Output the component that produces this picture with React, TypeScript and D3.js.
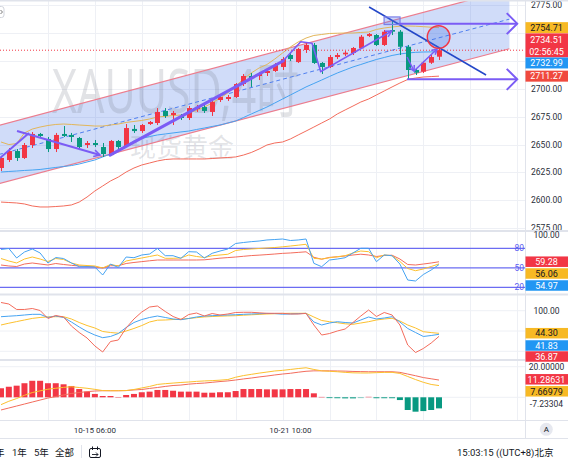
import React from "react";
import * as d3 from "d3";

// ---------------- data (XAUUSD 4h) ----------------
const opens = [2629.0, 2636.2, 2644.2, 2638.0, 2649.6, 2659.5, 2655.0, 2646.0, 2659.5, 2658.6, 2655.9, 2649.6, 2651.4, 2647.8, 2640.6, 2653.2, 2648.7, 2664.0, 2662.1, 2668.4, 2669.3, 2680.1, 2676.5, 2675.6, 2673.8, 2681.8, 2683.6, 2679.2, 2689.9, 2690.8, 2692.6, 2704.2, 2711.4, 2711.4, 2714.1, 2715.9, 2719.5, 2730.2, 2723.9, 2734.7, 2739.2, 2723.1, 2719.5, 2728.4, 2730.8, 2732.0, 2736.2, 2747.2, 2748.1, 2739.2, 2752.6, 2751.1, 2737.6, 2716.8, 2715.3, 2723.3, 2728.7];
const highs = [2639.7, 2646.9, 2646.0, 2651.4, 2661.2, 2660.4, 2656.8, 2660.4, 2666.6, 2660.4, 2656.8, 2653.2, 2654.1, 2651.4, 2654.1, 2654.1, 2668.4, 2667.5, 2668.4, 2671.1, 2682.7, 2682.7, 2680.1, 2677.4, 2684.5, 2685.4, 2685.4, 2689.9, 2694.4, 2694.4, 2705.1, 2713.2, 2714.1, 2715.0, 2717.7, 2723.1, 2728.4, 2732.9, 2736.5, 2741.0, 2741.0, 2723.9, 2730.2, 2732.0, 2733.8, 2737.4, 2748.1, 2749.9, 2749.0, 2752.6, 2760.7, 2752.6, 2739.2, 2718.6, 2724.8, 2730.2, 2736.5];
const lows = [2626.3, 2634.4, 2635.3, 2637.1, 2646.9, 2655.9, 2643.3, 2643.3, 2656.8, 2652.3, 2645.1, 2646.9, 2647.8, 2638.9, 2639.7, 2646.0, 2647.8, 2660.4, 2660.4, 2667.5, 2667.5, 2673.8, 2667.5, 2672.0, 2672.0, 2679.2, 2678.3, 2675.6, 2688.1, 2689.0, 2691.7, 2702.4, 2701.6, 2707.8, 2711.4, 2715.0, 2716.8, 2724.8, 2723.1, 2732.0, 2722.2, 2713.2, 2718.6, 2726.6, 2729.3, 2730.2, 2735.6, 2746.3, 2738.3, 2738.3, 2748.1, 2730.2, 2708.7, 2712.3, 2714.1, 2722.2, 2725.7];
const closes = [2638.0, 2644.2, 2638.0, 2649.6, 2659.5, 2657.7, 2646.0, 2658.6, 2657.7, 2656.8, 2647.8, 2651.4, 2649.6, 2641.5, 2653.2, 2647.8, 2664.8, 2662.1, 2667.5, 2670.2, 2679.2, 2675.6, 2678.3, 2673.8, 2682.7, 2683.6, 2680.1, 2688.1, 2692.6, 2692.6, 2704.2, 2711.4, 2709.6, 2713.2, 2715.9, 2721.3, 2726.6, 2726.6, 2735.6, 2739.2, 2723.1, 2719.5, 2728.4, 2730.2, 2732.3, 2736.5, 2746.6, 2749.0, 2739.2, 2751.1, 2751.1, 2737.6, 2716.8, 2714.4, 2723.3, 2728.4, 2734.51];

const bbUpper = [2652.3, 2650.0, 2650.9, 2660.4, 2663.9, 2665.7, 2667.1, 2668.0, 2668.4, 2668.0, 2667.5, 2667.1, 2666.6, 2666.6, 2667.5, 2668.4, 2669.8, 2670.7, 2671.6, 2672.9, 2674.7, 2675.3, 2676.0, 2676.5, 2678.3, 2680.5, 2683.6, 2687.2, 2691.7, 2696.2, 2702.5, 2708.7, 2714.1, 2718.6, 2721.7, 2726.6, 2732.0, 2737.4, 2741.9, 2745.4, 2747.7, 2748.6, 2749.5, 2749.7, 2749.9, 2749.9, 2750.4, 2750.8, 2753.1, 2754.4, 2755.3, 2756.0, 2756.2, 2756.0, 2755.6, 2755.1, 2754.71];
const bbMiddle = [2625.4, 2625.9, 2626.3, 2626.8, 2627.2, 2627.7, 2628.6, 2629.5, 2630.3, 2631.2, 2632.6, 2634.4, 2636.2, 2638.9, 2641.5, 2645.1, 2648.7, 2653.2, 2655.4, 2657.2, 2658.6, 2659.5, 2660.4, 2661.3, 2662.1, 2663.5, 2664.8, 2666.2, 2667.5, 2669.3, 2671.1, 2674.2, 2677.4, 2680.5, 2683.6, 2687.2, 2690.8, 2694.4, 2698.0, 2701.6, 2704.7, 2707.8, 2711.0, 2714.1, 2716.8, 2719.5, 2721.7, 2724.0, 2726.2, 2728.0, 2729.8, 2731.1, 2732.0, 2732.6, 2732.9, 2733.0, 2732.99];
const bbLower = [2598.5, 2598.1, 2597.7, 2596.8, 2595.0, 2594.1, 2594.1, 2594.5, 2595.0, 2595.9, 2598.5, 2603.0, 2608.4, 2612.9, 2617.4, 2620.9, 2625.4, 2629.0, 2631.7, 2633.5, 2635.3, 2636.6, 2637.1, 2637.1, 2637.1, 2637.1, 2637.1, 2637.5, 2638.0, 2638.4, 2638.9, 2640.6, 2642.9, 2646.0, 2649.6, 2651.4, 2652.3, 2655.0, 2658.6, 2662.1, 2665.7, 2669.3, 2672.9, 2677.4, 2681.0, 2684.5, 2688.1, 2690.8, 2694.4, 2698.0, 2701.6, 2705.1, 2708.3, 2709.6, 2710.5, 2710.9, 2711.27];

const rsiFast = [78.2, 79.7, 65.1, 74.3, 78.9, 72.8, 57.4, 65.8, 64.3, 57.4, 51.7, 51.7, 51.2, 38.9, 55.8, 50.5, 66.6, 65.5, 69.7, 71.2, 79.7, 68.6, 68.6, 64.6, 74.8, 74.3, 65.1, 72.3, 75.8, 78.9, 87.4, 88.9, 90.2, 91.2, 92.8, 93.5, 94.3, 92.0, 92.8, 94.3, 56.9, 51.7, 62.0, 63.5, 65.5, 72.8, 80.0, 80.0, 59.4, 69.7, 68.6, 55.8, 31.2, 29.7, 39.7, 46.6, 54.97];
const rsiMid = [64.3, 60.5, 57.4, 63.5, 66.6, 63.5, 59.7, 64.3, 62.8, 57.4, 54.3, 53.5, 52.8, 49.7, 55.1, 52.8, 60.5, 62.8, 65.1, 67.4, 69.7, 64.6, 64.6, 65.1, 69.7, 67.4, 65.8, 68.6, 69.7, 70.8, 76.6, 78.2, 78.9, 79.7, 80.5, 81.2, 82.3, 83.5, 84.8, 86.2, 64.6, 63.5, 65.5, 67.1, 68.6, 72.8, 75.8, 74.8, 65.5, 69.7, 68.6, 59.7, 48.9, 45.5, 48.2, 52.0, 56.06];
const rsiSlow = [54.3, 52.8, 52.0, 55.8, 57.4, 55.8, 54.3, 56.6, 55.1, 53.8, 52.8, 52.0, 51.5, 49.7, 53.2, 53.2, 56.6, 58.2, 59.5, 60.8, 62.0, 62.0, 62.0, 62.0, 62.0, 62.0, 62.3, 63.5, 64.8, 65.7, 66.6, 67.7, 68.8, 69.5, 70.3, 71.2, 72.2, 72.8, 73.7, 74.6, 66.2, 63.2, 66.0, 66.9, 68.2, 69.7, 70.9, 69.7, 67.4, 68.9, 69.4, 63.5, 55.1, 54.3, 55.8, 57.4, 59.28];

const kdjK = [85.2, 86.5, 87.7, 89.4, 91.1, 91.1, 83.3, 86.9, 83.3, 72.2, 59.9, 48.8, 40.1, 33.5, 36.5, 43.8, 58.6, 70.9, 78.3, 83.3, 86.9, 83.3, 79.6, 77.8, 80.8, 84.5, 86.9, 87.7, 88.7, 89.4, 90.1, 91.1, 91.9, 92.6, 93.3, 92.9, 91.4, 91.9, 92.6, 93.6, 72.2, 64.8, 69.7, 72.9, 70.9, 69.7, 77.1, 84.5, 79.6, 82.0, 85.2, 72.2, 56.2, 46.3, 36.5, 38.9, 41.83];
const kdjD = [64.8, 69.2, 73.2, 77.1, 81.0, 83.3, 84.7, 85.2, 85.2, 79.6, 70.9, 63.5, 57.4, 48.8, 46.3, 44.6, 50.0, 56.2, 63.5, 72.2, 76.6, 77.1, 78.3, 79.1, 80.8, 82.8, 84.7, 85.7, 86.5, 87.2, 87.7, 88.9, 89.9, 90.9, 91.9, 92.6, 93.3, 93.6, 93.6, 93.6, 84.5, 75.9, 72.9, 70.4, 67.7, 66.5, 69.7, 72.9, 77.1, 79.6, 81.3, 74.6, 64.8, 57.4, 48.3, 46.1, 44.30];
const kdjJ = [120.2, 116.5, 103.0, 103.0, 105.4, 100.5, 80.8, 88.2, 84.5, 62.3, 46.3, 32.8, 13.1, -1.7, 24.1, 27.8, 57.4, 79.6, 96.8, 109.1, 111.6, 98.0, 85.7, 78.3, 90.6, 94.3, 86.9, 93.1, 89.4, 91.9, 95.6, 96.1, 96.1, 94.8, 93.6, 93.6, 93.6, 91.9, 91.9, 93.3, 64.8, 40.1, 43.8, 50.0, 54.9, 70.9, 86.9, 101.7, 85.7, 95.6, 89.4, 64.8, 15.5, -3.0, 6.9, 20.4, 36.87];

const macdDif = [-4.8, -2.6, -0.8, 1.3, 3.1, 4.2, 5.3, 5.9, 6.5, 6.9, 6.4, 5.9, 5.2, 4.4, 4.3, 4.3, 4.4, 5.1, 6.1, 7.1, 8.4, 8.9, 9.3, 9.7, 10.0, 10.4, 10.7, 10.9, 11.2, 11.6, 13.1, 14.2, 15.0, 15.8, 16.5, 17.2, 17.6, 18.2, 18.8, 19.3, 18.2, 17.3, 17.0, 16.7, 16.3, 16.0, 15.9, 15.9, 16.1, 16.3, 16.3, 15.6, 13.6, 11.6, 9.8, 8.4, 7.66979];
const macdDea = [-8.3, -7.0, -5.7, -4.4, -3.1, -1.8, -0.5, 0.5, 1.5, 2.5, 3.1, 3.7, 4.1, 4.3, 4.3, 4.3, 4.4, 4.8, 5.1, 5.8, 6.4, 7.1, 7.7, 8.0, 8.6, 9.0, 9.3, 9.8, 10.3, 10.7, 11.3, 12.0, 12.6, 13.3, 13.9, 14.6, 15.2, 15.7, 16.4, 17.0, 17.3, 17.3, 17.3, 17.2, 17.1, 16.9, 16.8, 16.7, 16.7, 16.7, 16.7, 16.3, 15.2, 14.1, 12.9, 12.1, 11.28631];
const macdHist = [5.9, 6.9, 7.6, 9.2, 10.8, 10.8, 9.2, 9.2, 8.5, 7.4, 5.4, 3.7, 2.2, 0.85, 0.85, 0.2, 1.5, 2.2, 3.3, 3.7, 4.8, 4.8, 4.3, 3.7, 3.7, 3.7, 3.0, 3.0, 3.3, 3.3, 4.1, 5.4, 5.4, 5.4, 5.2, 5.2, 5.2, 5.4, 5.4, 5.4, 2.6, 0.3, -0.5, -0.6, -0.7, -0.7, -0.2, 0.4, -0.6, -0.6, -0.6, -1.8, -8.3, -9.4, -9.0, -8.3, -7.23304];

const priceGridLevels = [2575, 2600, 2625, 2650, 2675, 2700, 2725, 2750, 2775];
const priceTickLabels = [2575, 2600, 2625, 2650, 2675, 2700, 2775];
const timeTickIndex = [12, 37];
const timeTickLabels = ["10-15 06:00", "10-21 10:00"];
const rsiLevels = [80, 50, 20];
const lastPrice = 2734.51;
const countdown = "02:56:45";

// drawings: [bar index, price]
const channelUpper = [[-2, 2664.0], [65, 2788.9]];
const channelLower = [[-2, 2611.8], [65, 2735.8]];
const trendLine = [[47.06, 2773.2], [62.02, 2712.3]];
const legA = [[-0.13, 2638.0], [3.58, 2660.4]];
const legB = [[2.05, 2662.1], [12.66, 2640.6]];
const legC = [[13.94, 2640.6], [36.06, 2724.8]];
const legD = [[36.06, 2724.8], [38.32, 2742.1], [39.77, 2740.7], [40.88, 2715.3], [49.96, 2751.7]];
const legE = [[51.92, 2728.4], [52.81, 2715.9]];
const legF = [[52.81, 2715.9], [55.75, 2735.6]];
const targetHigh = [[50.9, 2758.3], [66.0, 2758.3]];
const targetLow = [[51.92, 2708.4], [66.0, 2708.4]];
const highBox = [[48.98, 2764.3], [51.02, 2757.5]];
const circleMark = [55.95, 2746.3];

const FONT = "Roboto, 'Noto Sans', 'Noto Sans CJK SC', sans-serif";
const RED = "#f23645";
const GREEN = "#089981";
const YEL = "#f7b924";
const BLUE = "#2196f3";
const PURPLE = "#7b5cf5";
const GRID = "#eef0f5";
const SEP = "#e0e3eb";
const AX = 525;

function arrowHead(x1: number, y1: number, x2: number, y2: number, len = 7, ang = 0.5) {
  const a = Math.atan2(y2 - y1, x2 - x1);
  const ax = x2 - len * Math.cos(a - ang), ay = y2 - len * Math.sin(a - ang);
  const bx = x2 - len * Math.cos(a + ang), by = y2 - len * Math.sin(a + ang);
  return `M${ax},${ay}L${x2},${y2}L${bx},${by}`;
}

export default function App() {
  const n = closes.length;
  const x = d3.scaleLinear().domain([0, n - 1]).range([1, 439]);
  const yM = d3.scaleLinear().domain([2575, 2775]).range([228.3, 5]);
  const yR = d3.scaleLinear().domain([20, 80]).range([287.3, 248.3]);
  const yK = d3.scaleLinear().domain([0, 100]).range([351.3, 310.7]);
  const yD = d3.scaleLinear().domain([0, 20]).range([397.3, 366.7]);

  const series = (vals: number[], ys: any) =>
    d3.line<number>().x((_, i) => x(i)).y((v) => ys(v))(vals) || "";
  const poly = (pts: number[][]) =>
    d3.line<number[]>().x((p) => x(p[0])).y((p) => yM(p[1]))(pts) || "";
  const head = (pts: number[][], len = 7) => {
    const a = pts[pts.length - 2], b = pts[pts.length - 1];
    return arrowHead(x(a[0]), yM(a[1]), x(b[0]), yM(b[1]), len);
  };

  const vGrid = d3.range(6, 72, 6).map((i) => Math.round(x(i)) + 0.5);
  const bw = 5;

  const chanPath =
    `M${x(channelUpper[0][0])},${yM(channelUpper[0][1])}` +
    `L${x(channelUpper[1][0])},${yM(channelUpper[1][1])}` +
    `L${x(channelLower[1][0])},${yM(channelLower[1][1])}` +
    `L${x(channelLower[0][0])},${yM(channelLower[0][1])}Z`;
  const midline = [
    [channelUpper[0][0], (channelUpper[0][1] + channelLower[0][1]) / 2],
    [channelUpper[1][0], (channelUpper[1][1] + channelLower[1][1]) / 2],
  ];

  const chevron = (pts: number[][]) => {
    const ex = x(pts[1][0]), ey = yM(pts[1][1]);
    return `M${ex - 10.5},${ey - 10.5}L${ex},${ey}L${ex - 10.5},${ey + 10.5}`;
  };

  const last = n - 1;
  const box = (cy: number, h: number, fill: string, label: string, color: string, key: string) => (
    <g key={key}>
      <rect x={AX + 0.5} y={cy - h / 2} width={568 - AX} height={h} fill={fill} />
      <text x={546.5} y={cy + 3.2} textAnchor="middle" fontSize={9} fill={color}>{label}</text>
    </g>
  );

  const uY = yM(bbUpper[last]);
  const lY = yM(bbLower[last]);

  return (
    <svg width={568} height={458} style={{ position: "fixed", left: 0, top: 0, background: "#fff", fontFamily: FONT }}>
      <defs>
        <clipPath id="cMain"><rect x={0} y={0} width={AX} height={230} /></clipPath>
        <clipPath id="cAxisMain"><rect x={AX} y={0} width={568 - AX} height={230} /></clipPath>
        <clipPath id="cR"><rect x={0} y={232} width={AX} height={61.5} /></clipPath>
        <clipPath id="cK"><rect x={0} y={295.5} width={AX} height={63.5} /></clipPath>
        <clipPath id="cD"><rect x={0} y={361} width={AX} height={59} /></clipPath>
      </defs>
      <rect x={0} y={0} width={568} height={458} fill="#fff" />

      {/* grids */}
      {vGrid.filter((v) => v < AX).map((v, i) => (
        <line key={"vg" + i} x1={v} x2={v} y1={0} y2={420} stroke={GRID} strokeWidth={1} />
      ))}
      {priceGridLevels.map((p) => (
        <line key={"hg" + p} x1={0} x2={AX} y1={Math.round(yM(p)) + 0.5} y2={Math.round(yM(p)) + 0.5} stroke={GRID} />
      ))}
      {[100, 50, 0].map((v) => (
        <line key={"kg" + v} x1={0} x2={AX} y1={yK(v)} y2={yK(v)} stroke={GRID} />
      ))}
      {[20, 0].map((v) => (
        <line key={"dg" + v} x1={0} x2={AX} y1={yD(v)} y2={yD(v)} stroke={GRID} />
      ))}

      {/* main pane */}
      <g clipPath="url(#cMain)">
        <path d={chanPath} fill="rgba(60,110,230,0.24)" />
        <text x={52} y={113} fontSize={62} textLength={247} lengthAdjust="spacingAndGlyphs" fill="rgba(110,115,130,0.2)" fontFamily="'Noto Sans', 'Noto Sans CJK SC', sans-serif">XAUUSD,4时</text>
        <text x={130} y={157} fontSize={26} textLength={104} lengthAdjust="spacingAndGlyphs" fill="rgba(110,115,130,0.2)" fontFamily="'Noto Sans CJK SC', sans-serif">现货黄金</text>
        <path d={poly(channelUpper)} stroke="#ec7d8e" strokeWidth={1.2} fill="none" />
        <path d={poly(channelLower)} stroke="#ec7d8e" strokeWidth={1.2} fill="none" />
        <path d={poly(midline)} stroke="#4f7ff0" strokeWidth={1} strokeDasharray="4,3" fill="none" />

        <path d={series(bbUpper, yM)} stroke="#e2b65a" strokeWidth={1} fill="none" />
        <path d={series(bbMiddle, yM)} stroke="#45a3f2" strokeWidth={1} fill="none" />
        <path d={series(bbLower, yM)} stroke="#f36c5c" strokeWidth={1} fill="none" />

        <line x1={0} x2={AX} y1={yM(lastPrice)} y2={yM(lastPrice)} stroke={RED} strokeWidth={1} strokeDasharray="1,2" />

        {closes.map((c, i) => {
          const o = opens[i];
          const up = c >= o;
          const col = up ? RED : GREEN;
          const cx = Math.round(x(i)) + 0.5;
          const t = yM(Math.max(o, c));
          const b = yM(Math.min(o, c));
          return (
            <g key={"c" + i}>
              <line x1={cx} x2={cx} y1={yM(highs[i])} y2={yM(lows[i])} stroke={col} strokeWidth={1} />
              <rect x={cx - bw / 2} y={t} width={bw} height={Math.max(1, b - t)} fill={col} />
            </g>
          );
        })}

        {/* drawings */}
        <path d={poly(trendLine)} stroke="#2447c8" strokeWidth={1.5} fill="none" />
        <path d={poly(legA)} stroke={PURPLE} strokeWidth={2} fill="none" />
        <path d={poly(legB)} stroke={PURPLE} strokeWidth={2} fill="none" />
        <path d={head(legB)} stroke={PURPLE} strokeWidth={1.5} fill="none" />
        <path d={poly(legC)} stroke={PURPLE} strokeWidth={3} fill="none" strokeLinecap="round" />
        <path d={poly(legD)} stroke={PURPLE} strokeWidth={1.6} fill="none" strokeLinejoin="round" />
        <path d={head(legD)} stroke={PURPLE} strokeWidth={1.5} fill="none" />
        <path d={poly(legE)} stroke={PURPLE} strokeWidth={1.5} fill="none" />
        <path d={head(legE, 6)} stroke={PURPLE} strokeWidth={1.5} fill="none" />
        <path d={poly(legF)} stroke={PURPLE} strokeWidth={1.5} fill="none" />
        <path d={head(legF, 6)} stroke={PURPLE} strokeWidth={1.5} fill="none" />
        <rect
          x={x(highBox[0][0])}
          y={yM(highBox[0][1])}
          width={x(highBox[1][0]) - x(highBox[0][0])}
          height={yM(highBox[1][1]) - yM(highBox[0][1])}
          fill="rgba(90,120,240,0.3)"
          stroke="#7b7fe8"
          strokeWidth={1.2}
        />
        <path d={poly(targetHigh)} stroke={PURPLE} strokeWidth={2} fill="none" />
        <path d={chevron(targetHigh)} stroke={PURPLE} strokeWidth={2} fill="none" />
        <path d={poly(targetLow)} stroke={PURPLE} strokeWidth={2} fill="none" />
        <path d={chevron(targetLow)} stroke={PURPLE} strokeWidth={2} fill="none" />
        <circle cx={x(circleMark[0])} cy={yM(circleMark[1])} r={11.3} fill="rgba(60,110,230,0.28)" stroke={RED} strokeWidth={1.4} />
      </g>

      {/* RSI pane */}
      <g clipPath="url(#cR)">
        {rsiLevels.map((v) => (
          <line key={"rl" + v} x1={0} x2={AX} y1={yR(v)} y2={yR(v)} stroke="#6b6cf2" strokeWidth={1.3} />
        ))}
        <path d={series(rsiSlow, yR)} stroke="#f36c5c" strokeWidth={1} fill="none" />
        <path d={series(rsiMid, yR)} stroke="#fcc02e" strokeWidth={1} fill="none" />
        <path d={series(rsiFast, yR)} stroke="#45a3f2" strokeWidth={1} fill="none" />
      </g>
      {rsiLevels.map((v) => (
        <text key={"rt" + v} x={524} y={yR(v) + 3} textAnchor="end" fontSize={8.5} fill="#5b5cf0">{v}</text>
      ))}

      {/* KDJ pane */}
      <g clipPath="url(#cK)">
        <path d={series(kdjD, yK)} stroke="#fcc02e" strokeWidth={1} fill="none" />
        <path d={series(kdjK, yK)} stroke="#45a3f2" strokeWidth={1} fill="none" />
        <path d={series(kdjJ, yK)} stroke="#f36c5c" strokeWidth={1} fill="none" />
      </g>

      {/* MACD pane */}
      <g clipPath="url(#cD)">
        {macdHist.map((v, i) => {
          const y0 = yD(0), y1 = yD(v);
          return (
            <rect key={"h" + i} x={x(i) - 3} y={Math.min(y0, y1)} width={6} height={Math.max(0.8, Math.abs(y1 - y0))} fill={v >= 0 ? RED : GREEN} opacity={Math.abs(v) < 0.5 ? 0.55 : 1} />
          );
        })}
        <path d={series(macdDea, yD)} stroke="#f36c5c" strokeWidth={1} fill="none" />
        <path d={series(macdDif, yD)} stroke="#fcc02e" strokeWidth={1} fill="none" />
      </g>

      {/* price axis */}
      <g clipPath="url(#cAxisMain)">
        {priceTickLabels.map((p) => (
          <text key={"pt" + p} x={546.5} y={yM(p) + 3} textAnchor="middle" fontSize={8.5} fill="#2a2e39">{p.toFixed(2)}</text>
        ))}
      </g>

      {/* separators */}
      <rect x={0} y={0} width={568} height={1.5} fill={SEP} />
      <rect x={0} y={230} width={568} height={2} fill={SEP} />
      <rect x={0} y={293.5} width={568} height={2} fill={SEP} />
      <rect x={0} y={359} width={568} height={2} fill={SEP} />
      <line x1={0} x2={568} y1={420.5} y2={420.5} stroke={SEP} />
      <line x1={0} x2={568} y1={438.5} y2={438.5} stroke={SEP} />
      <line x1={AX + 0.5} x2={AX + 0.5} y1={0} y2={438} stroke={SEP} />

      {box(uY, 11, YEL, bbUpper[last].toFixed(2), "#131722", "bu")}
      <rect x={AX + 0.5} y={uY + 5.7} width={568 - AX} height={24} fill={RED} />
      <text x={546.5} y={uY + 15} textAnchor="middle" fontSize={9} fill="#fff">{lastPrice.toFixed(2)}</text>
      <text x={546.5} y={uY + 27.3} textAnchor="middle" fontSize={9} fill="#fff">{countdown}</text>
      {box(uY + 35.3, 11, BLUE, bbMiddle[last].toFixed(2), "#fff", "bm")}
      {box(lY, 11, "#f0493e", bbLower[last].toFixed(2), "#fff", "bl")}

      {/* RSI axis */}
      <text x={546.5} y={yR(100) + 3} textAnchor="middle" fontSize={8.5} fill="#2a2e39">100.00</text>
      {box(261.7, 10.5, RED, rsiSlow[last].toFixed(2), "#fff", "r1")}
      {box(273.5, 10.5, YEL, rsiMid[last].toFixed(2), "#131722", "r2")}
      {box(285.5, 10.5, BLUE, rsiFast[last].toFixed(2), "#fff", "r3")}

      {/* KDJ axis */}
      <text x={546.5} y={yK(100) + 3} textAnchor="middle" fontSize={8.5} fill="#2a2e39">100.00</text>
      {box(333.2, 10.5, YEL, kdjD[last].toFixed(2), "#131722", "k1")}
      {box(345.5, 10.5, BLUE, kdjK[last].toFixed(2), "#fff", "k2")}
      {box(356.5, 10.5, RED, kdjJ[last].toFixed(2), "#fff", "k3")}

      {/* MACD axis */}
      <text x={546.5} y={yD(20) + 3} textAnchor="middle" fontSize={8.5} fill="#2a2e39">20.00000</text>
      {box(379.3, 10.5, RED, macdDea[last].toFixed(5), "#fff", "m1")}
      {box(391.3, 10.5, YEL, macdDif[last].toFixed(5), "#131722", "m2")}
      <text x={546.5} y={404 + 3} textAnchor="middle" fontSize={8.5} fill="#2a2e39">{macdHist[last].toFixed(5)}</text>

      {/* time axis */}
      {timeTickIndex.map((ti, k) => (
        <text key={"tt" + ti} x={x(ti)} y={433} textAnchor="middle" fontSize={8} fill="#2a2e39">{timeTickLabels[k]}</text>
      ))}
      <circle cx={546.3} cy={429.3} r={6.5} fill="#e6e8ef" />
      <text x={546.3} y={432.3} textAnchor="middle" fontSize={8} fill="#131722">A</text>

      {/* bottom toolbar */}
      <text x={-5} y={456} fontSize={9.5} fill="#131722">年</text>
      <text x={12} y={456} fontSize={9.5} fill="#131722">1年</text>
      <text x={34} y={456} fontSize={9.5} fill="#131722">5年</text>
      <text x={55} y={456} fontSize={9.5} fill="#131722">全部</text>
      <line x1={81.5} x2={81.5} y1={445} y2={458} stroke={SEP} />
      <rect x={89.5} y={448.5} width={11} height={9} rx={1.5} fill="none" stroke="#131722" strokeWidth={1} />
      <line x1={92.5} x2={92.5} y1={446.5} y2={450} stroke="#131722" />
      <line x1={97.5} x2={97.5} y1={446.5} y2={450} stroke="#131722" />
      <path d="M92,454.5 L98,454.5 M96,452.5 L98,454.5 L96,456.5" stroke="#131722" fill="none" strokeWidth={0.9} />
      <text x={457} y={456} fontSize={9.5} fill="#131722">15:03:15 ((UTC+8)北京</text>

      {/* top-left legend stub */}
      <rect x={-10} y={6.5} width={14} height={11} rx={2.5} fill="#fff" stroke="#d1d4dc" />
      <path d="M0.5,10 L2.5,12 L0.5,14" stroke="#555" fill="none" strokeWidth={0.8} />
    </svg>
  );
}
